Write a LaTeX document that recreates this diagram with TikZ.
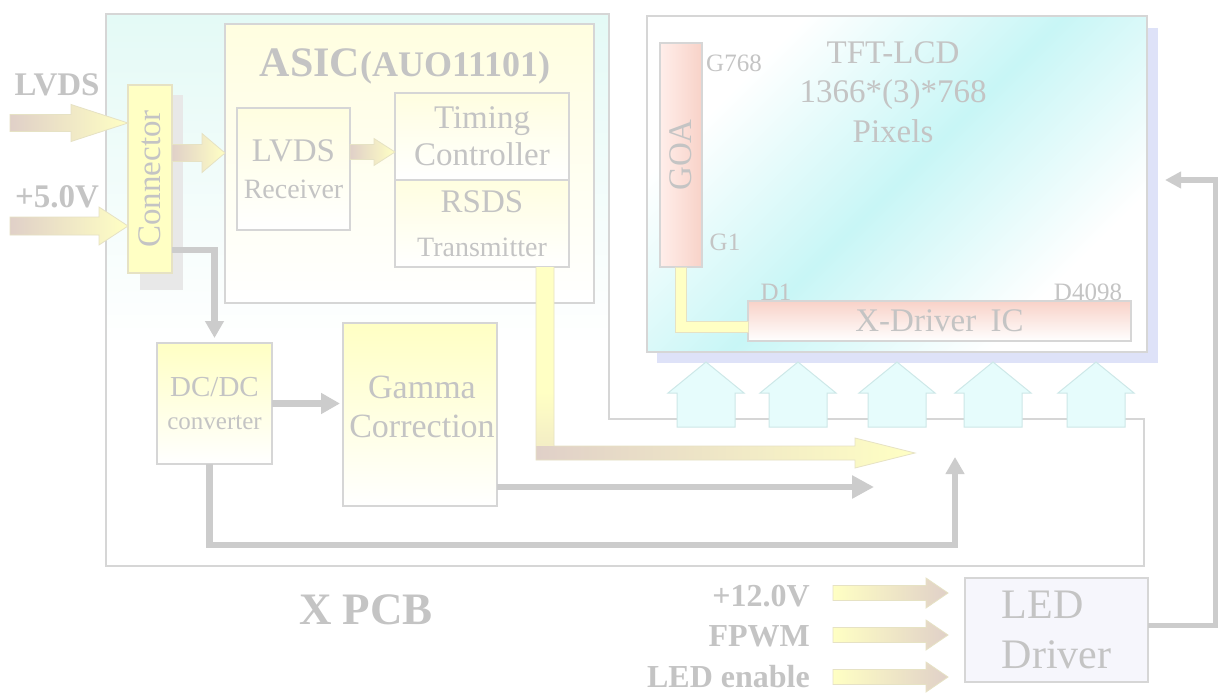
\documentclass[tikz,border=0pt]{standalone}
\usepackage{fontspec}
\setmainfont{Liberation Serif}
\usetikzlibrary{arrows.meta,calc}
\definecolor{tg}{RGB}{196,196,196}
\definecolor{lg}{RGB}{204,204,204}
\definecolor{bd}{RGB}{214,214,214}
\definecolor{pcbc}{RGB}{205,245,238}
\definecolor{tftc}{RGB}{200,246,246}
\definecolor{yl}{RGB}{255,255,196}
\definecolor{ylt}{RGB}{255,254,224}
\definecolor{fattan}{RGB}{224,208,200}
\definecolor{fatb}{RGB}{230,226,196}
\definecolor{pinkc}{RGB}{248,210,200}
\definecolor{pinkl}{RGB}{255,238,234}
\definecolor{lav}{RGB}{222,226,248}
\definecolor{ledbg}{RGB}{246,246,252}
\definecolor{upc}{RGB}{230,252,252}
\definecolor{upb}{RGB}{205,232,232}
\definecolor{shg}{RGB}{232,232,232}
\pgfdeclareverticalshading{pcbsh}{100bp}{color(0bp)=(white); color(45bp)=(white); color(100bp)=(pcbc)}
\pgfdeclarehorizontalshading{tftsh}{100bp}{color(0bp)=(white); color(28bp)=(white); color(50bp)=(tftc); color(72bp)=(white); color(100bp)=(white)}
\pgfdeclareverticalshading{rsdsv}{100bp}{color(0bp)=(fattan); color(40bp)=(yl); color(100bp)=(yl)}
\newcommand\fz[2]{\fontsize{#1}{#2}\selectfont}
\newcommand\fatarrow[6]{%
  \path[#1] let \p1=(#2), \p2=(#3) in
   (\x1,\y1+#4) -- (\x2-#6,\y1+#4) -- (\x2-#6,\y1+#5) -- (\x2,\y1) --
   (\x2-#6,\y1-#5) -- (\x2-#6,\y1-#4) -- (\x1,\y1-#4) -- cycle;}
\begin{document}
\begin{tikzpicture}[x=1pt,y=-1pt,
  box/.style={draw=bd, line width=1.2pt, inner sep=0pt, outer sep=0pt, anchor=north west, text=tg, align=center},
  ybox/.style={box, top color=ylt, bottom color=white},
  lbl/.style={text=tg, inner sep=0pt, align=center},
  fat/.style={left color=fattan, right color=yl, draw=fatb, line width=0.8pt},
  fatr/.style={left color=yl, right color=fattan, draw=fatb, line width=0.8pt},
  gline/.style={draw=lg, line width=6.5pt},
  fline/.style={draw=lg, line width=5pt},
  upar/.style={draw=upb, fill=upc, line width=1pt}]
\useasboundingbox (0,0) rectangle (1222,695);
\fill[white] (0,0) rectangle (1222,695);
% PCB outline
\path[shade, shading=pcbsh, draw=bd, line width=1.2pt] (106,14) -- (609,14) -- (609,419) -- (1144,419) -- (1144,566) -- (106,566) -- cycle;
\node[lbl, font=\bfseries\fz{45}{50}] (xpcb) at (366,610) {X PCB};
% ASIC
\node[box, top color=ylt, bottom color=white, minimum width=369pt, minimum height=279pt] (asic) at (225,24) {};
\node[lbl, font=\bfseries\fz{42}{46}] (asict) at (405,66) {ASIC{\fz{36}{40}(AUO11101)}};
\node[ybox, minimum width=113pt, minimum height=122pt, font=\fz{33}{37}] (recv) at (237,108) {LVDS\\{\fz{28}{37}Receiver}};
\node[ybox, minimum width=174pt, minimum height=87pt, font=\fz{33}{37}] (timing) at (395,93) {Timing\\Controller};
\node[ybox, minimum width=174pt, minimum height=87pt, font=\fz{33}{44}] (rsds) at (395,180) {RSDS\\{\fz{28}{44}Transmitter}};
% Connector
\fill[shg] (140,95) rectangle (183,290);
\node[box, fill=yl, draw=fatb, minimum width=44pt, minimum height=188pt] (conn) at (128,85) {};
\node[lbl, rotate=90, font=\fz{33}{36}] (connt) at (conn.center) {Connector};
% input labels and fat arrows
\node[lbl, font=\bfseries\fz{33}{36}] (lvdsl) at (57,85) {LVDS};
\node[lbl, font=\bfseries\fz{33}{36}] (p5l) at (57,197) {+5.0V};
\coordinate (lvA) at (10,123);
\coordinate (p5A) at (10,226);
\fatarrow{fat}{lvA}{conn.west |- lvA}{8.5pt}{18.5pt}{57pt}
\fatarrow{fat}{p5A}{conn.west |- p5A}{9pt}{19pt}{29pt}
\coordinate (cA) at ([yshift=26pt]conn.east);
\fatarrow{fat}{cA}{asic.west |- cA}{8.5pt}{19.5pt}{23pt}
\coordinate (rA) at ([yshift=17pt]recv.east);
\fatarrow{fat}{rA}{timing.west |- rA}{7.5pt}{13.5pt}{21pt}
% DC/DC and Gamma
\node[box, top color=yl, bottom color=white, minimum width=115pt, minimum height=121pt, font=\fz{29}{33}] (dcdc) at (157,343) {DC/DC\\{\fz{25}{33}converter}};
\node[box, top color=yl, bottom color=white, minimum width=154pt, minimum height=183pt] (gamma) at (343,323) {};
\node[lbl, font=\fz{34}{39}] (gammat) at ($(gamma.center)+(2,-8)$) {Gamma\\Correction};
% gray connectors
\draw[gline, -{Triangle[length=17pt,width=18pt]}, shorten >=5pt] ([yshift=23pt]conn.south east) -| (dcdc.north);
\draw[gline, -{Triangle[length=19pt,width=20pt]}, shorten >=3pt] (dcdc.east) -- (dcdc.east -| gamma.west);
\coordinate (gE) at (874,487);
\draw[gline, -{Triangle[length=22pt,width=22pt]}] ([yshift=19pt]gamma.south east) -- (gE);
\coordinate (pE) at (955,457);
\draw[gline, -{Triangle[length=17pt,width=18pt]}] ([xshift=-5pt]dcdc.south) -- ++(0,81) -| (pE);
% RSDS output thick arrow
\coordinate (r0) at ([xshift=63pt]rsds.south);
\coordinate (rtip) at (915,453);
\path[shade, shading=rsdsv] let \p1=(r0), \p2=(rtip) in (\x1-9pt,\y1) rectangle (\x1+9pt,\y2+7pt);
\path[left color=fattan, right color=yl] let \p1=(r0), \p2=(rtip) in (\x1-9pt,\y2+7pt) -- (\x2-60pt,\y2+7pt) -- (\x2-60pt,\y2+15pt) -- (\x2,\y2) -- (\x2-60pt,\y2-15pt) -- (\x2-60pt,\y2-7pt) -- (\x1-9pt,\y2-7pt) -- cycle;
\path[draw=fatb, line width=0.8pt] let \p1=(r0), \p2=(rtip) in (\x1-9pt,\y1) -- (\x1-9pt,\y2-7pt) -- (\x2-60pt,\y2-7pt) -- (\x2-60pt,\y2-15pt) -- (\x2,\y2) -- (\x2-60pt,\y2+15pt) -- (\x2-60pt,\y2+7pt) -- (\x1+9pt,\y2+7pt) -- (\x1+9pt,\y1);
% TFT panel
\fill[lav] (657,28) rectangle (1158,363);
\node[box, shade, shading=tftsh, shading angle=-45, minimum width=500pt, minimum height=336pt] (tft) at (647,16) {};
\node[lbl, font=\fz{33}{39.5}] (tftt) at (893,92) {TFT-LCD\\1366*(3)*768\\Pixels};
\node[box, left color=pinkl, right color=pinkc, minimum width=42pt, minimum height=224pt] (goa) at (660,43) {};
\node[lbl, rotate=90, font=\fz{33}{36}] (goat) at (goa.center) {GOA};
\node[box, top color=pinkc, bottom color=white, minimum width=383pt, minimum height=40pt, font=\fz{33}{36}] (xdrv) at (748,301) {X-Driver\hspace{6pt} IC};
\path[fill=yl, draw=fatb, line width=0.8pt] let \p1=(goa.south), \p2=(xdrv.west) in (\x1-5.5pt,\y1) -- (\x1+5.5pt,\y1) -- (\x1+5.5pt,\y2) -- (\x2,\y2) -- (\x2,\y2-11pt) -- (\x1-5.5pt,\y2-11pt) -- cycle;
\node[lbl, font=\fz{25}{28}] (g768) at (734,63) {G768};
\node[lbl, font=\fz{25}{28}] (g1) at (725,242) {G1};
\node[lbl, font=\fz{25}{28}] (d1) at (776,292) {D1};
\node[lbl, font=\fz{25}{28}] (d4098) at (1088,292) {D4098};
% up arrows
\foreach \cx in {706,798,897,993,1096}
  \path[upar] (\cx-29,427) -- (\cx-29,393) -- (\cx-38,393) -- (\cx,362) -- (\cx+38,393) -- (\cx+29,393) -- (\cx+29,427) -- cycle;
% LED driver
\node[box, fill=ledbg, minimum width=183pt, minimum height=104pt, align=left, font=\fz{42}{50}] (led) at (965,578) {LED\\Driver};
\node[lbl, anchor=east, font=\bfseries\fz{32}{35}] (l12) at (810,596) {+12.0V};
\node[lbl, anchor=east, font=\bfseries\fz{32}{35}] (lpwm) at (810,636) {FPWM};
\node[lbl, anchor=east, font=\bfseries\fz{32}{35}] (len) at (810,677) {LED enable};
\coordinate (i1) at (833,593);
\coordinate (i2) at (833,635);
\coordinate (i3) at (833,677);
\fatarrow{fatr}{i1}{$(led.west |- i1)+(-17,0)$}{7.5pt}{15pt}{22pt}
\fatarrow{fatr}{i2}{$(led.west |- i2)+(-17,0)$}{7.5pt}{15pt}{22pt}
\fatarrow{fatr}{i3}{$(led.west |- i3)+(-17,0)$}{7.5pt}{15pt}{22pt}
\coordinate (fE) at (1165,180);
\draw[fline, -{Triangle[length=16pt,width=16pt]}] ([yshift=5pt]led.east) -- ++(67,0) |- (fE);
\end{tikzpicture}
\end{document}
